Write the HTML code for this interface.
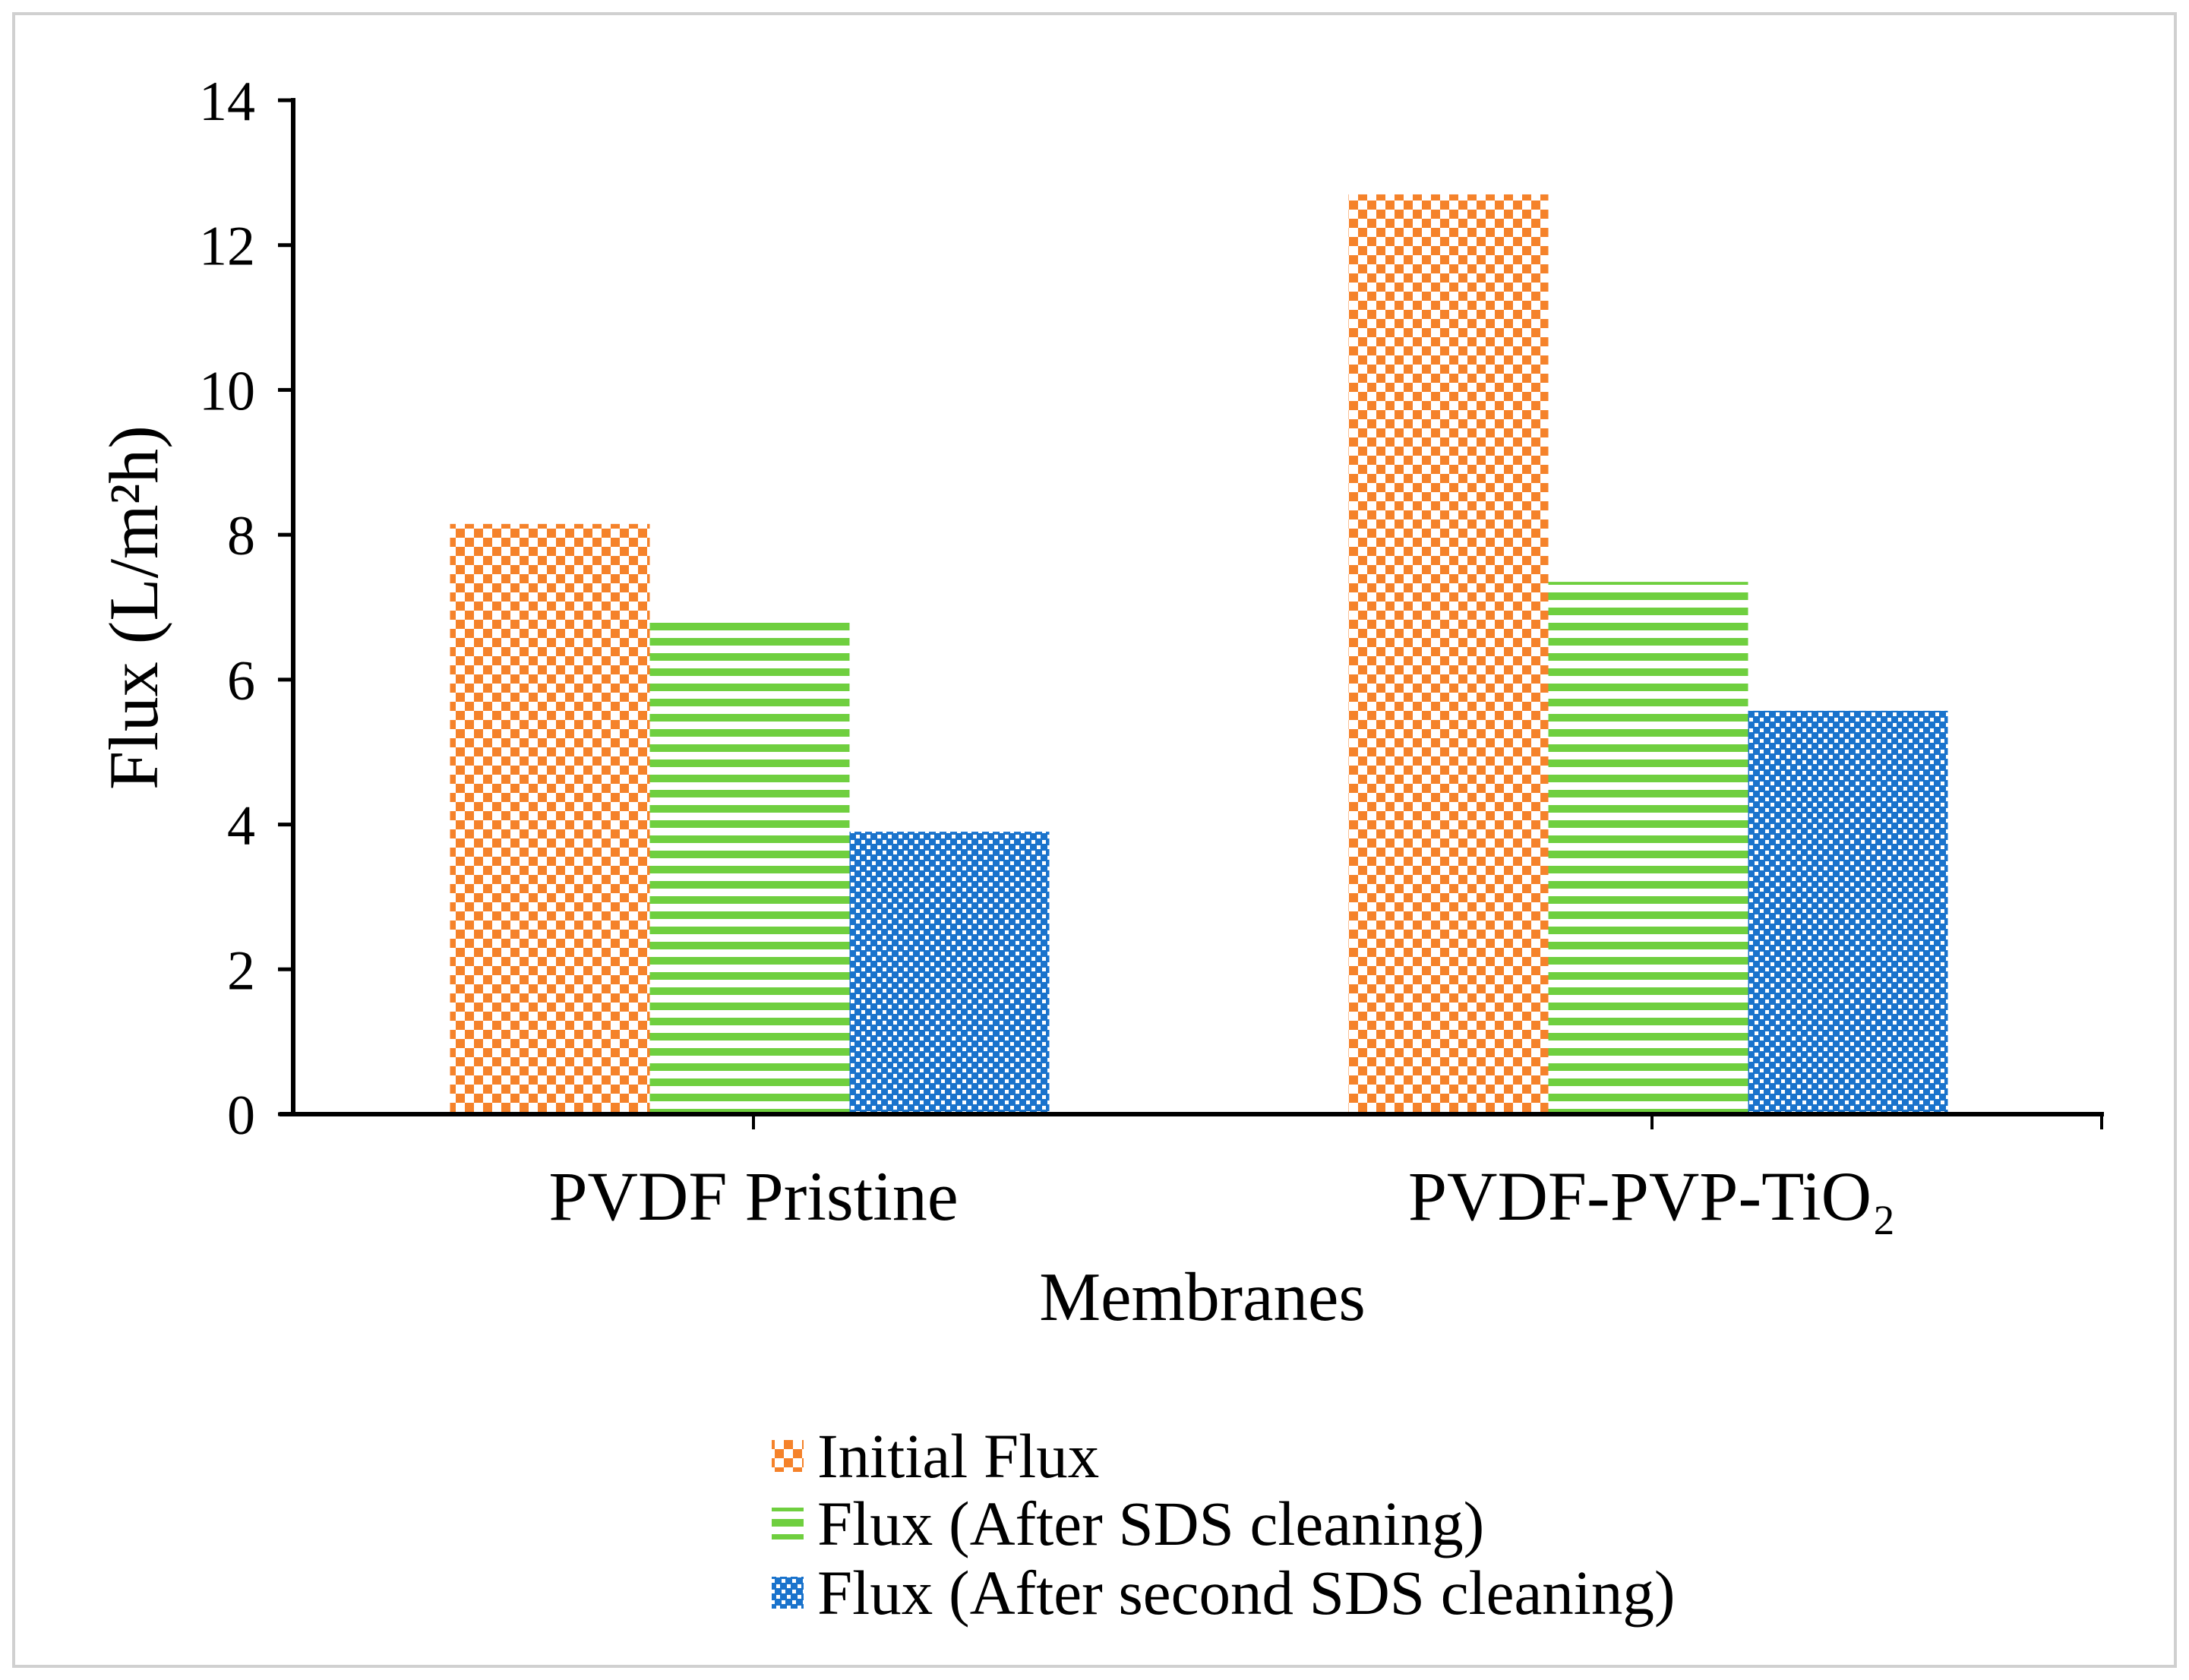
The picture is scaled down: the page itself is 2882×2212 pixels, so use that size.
<!DOCTYPE html>
<html><head><meta charset="utf-8"><style>
html,body{margin:0;padding:0;background:#fff}
svg{display:block}
text{font-family:"Liberation Serif",serif;fill:#000}
</style></head><body>
<svg id="chart" width="2882" height="2212" viewBox="0 0 2882 2212">
<defs>
<pattern id="pOrange" width="24" height="24" patternUnits="userSpaceOnUse">
<rect width="24" height="24" fill="#fff"/><rect width="12" height="12" fill="#F5822A"/><rect x="12" y="12" width="12" height="12" fill="#F5822A"/>
</pattern>
<pattern id="pGreen" width="20" height="20" patternUnits="userSpaceOnUse">
<rect width="20" height="20" fill="#fff"/><rect y="0" width="20" height="10" fill="#6FCF3F"/>
</pattern>
<pattern id="pBlue" width="14" height="14" patternUnits="userSpaceOnUse">
<rect width="14" height="14" fill="#1A73CC"/><rect x="0" y="0" width="5" height="5" fill="#fff"/><rect x="7" y="7" width="5" height="5" fill="#fff"/>
</pattern>
</defs>
<rect x="18" y="18" width="2846" height="2176" fill="#fff" stroke="#d0d0d0" stroke-width="4"/>
<g id="bars"></g>
<g id="axes"></g>
<text x="186" y="800" font-size="92" text-anchor="middle" transform="rotate(-90 186 800)" dominant-baseline="middle">Flux (L/m²h)</text>
<text x="1583" y="1738" font-size="91" text-anchor="middle">Membranes</text>
<g id="legend"></g>
</svg>
<script>
const categories = ["PVDF Pristine", "PVDF-PVP-TiO₂"];
const seriesNames = ["Initial Flux", "Flux (After SDS cleaning)", "Flux (After second SDS cleaning)"];
const initialFlux = [8.15, 12.7];
const afterSds = [6.82, 7.35];
const afterSecondSds = [3.9, 5.57];
const yTicks = [0, 2, 4, 6, 8, 10, 12, 14];

const NS = "http://www.w3.org/2000/svg";
const fills = ["url(#pOrange)", "url(#pGreen)", "url(#pBlue)"];
const series = [initialFlux, afterSds, afterSecondSds];
const x0 = 386, x1 = 2770, y0 = 1467, yTop = 132, yMax = 14;
function yScale(v){ return y0 - (v / yMax) * (y0 - yTop); }
const groupCenters = [992, 2175];
const barW = 263;
function xBar(ci, si){ return groupCenters[ci] - 1.5 * barW + si * barW - 5; }
function mk(tag, attrs, parent){ const e = document.createElementNS(NS, tag); for (const k in attrs) e.setAttribute(k, attrs[k]); parent.appendChild(e); return e; }

const gb = document.getElementById('bars');
series.forEach((vals, si) => {
  vals.forEach((v, ci) => {
    const r = mk('rect', {x: xBar(ci, si), y: yScale(v), width: barW, height: y0 - yScale(v), fill: fills[si]}, gb);
    
    
  });
});

const ga = document.getElementById('axes');
const ya = mk('line', {x1: x0, y1: yTop - 3, x2: x0, y2: y0 + 3, stroke: '#000', 'stroke-width': 6}, ga);


const xa = mk('line', {x1: 368, y1: y0, x2: x1, y2: y0, stroke: '#000', 'stroke-width': 6}, ga);


yTicks.forEach(t => {
  const y = yScale(t);
  const tk = mk('line', {x1: 366, y1: y, x2: x0, y2: y, stroke: '#000', 'stroke-width': 5}, ga);
  
  
  const lb = mk('text', {x: 336, y: y + 26, 'font-size': 74, 'text-anchor': 'end'}, ga);
  lb.textContent = t;
  
  
});
[...groupCenters, x1 - 3].forEach(x => {
  const tk = mk('line', {x1: x, y1: y0, x2: x, y2: y0 + 20, stroke: '#000', 'stroke-width': 4}, ga);
  
  
});
categories.forEach((c, ci) => {
  const lb = mk('text', {x: groupCenters[ci], y: 1606, 'font-size': 92, 'text-anchor': 'middle'}, ga);
  lb.textContent = c;
  
  
});

const gl = document.getElementById('legend');
const legendRows = [1917, 2006, 2097];
seriesNames.forEach((n, si) => {
  const sw = mk('rect', {x: 1016, y: legendRows[si] - 21, width: 42, height: 42, fill: fills[si]}, gl);
  
  
  const t = mk('text', {x: 1076, y: legendRows[si] + 28, 'font-size': 83}, gl);
  t.textContent = n;
  
  
});
</script>
</body></html>
